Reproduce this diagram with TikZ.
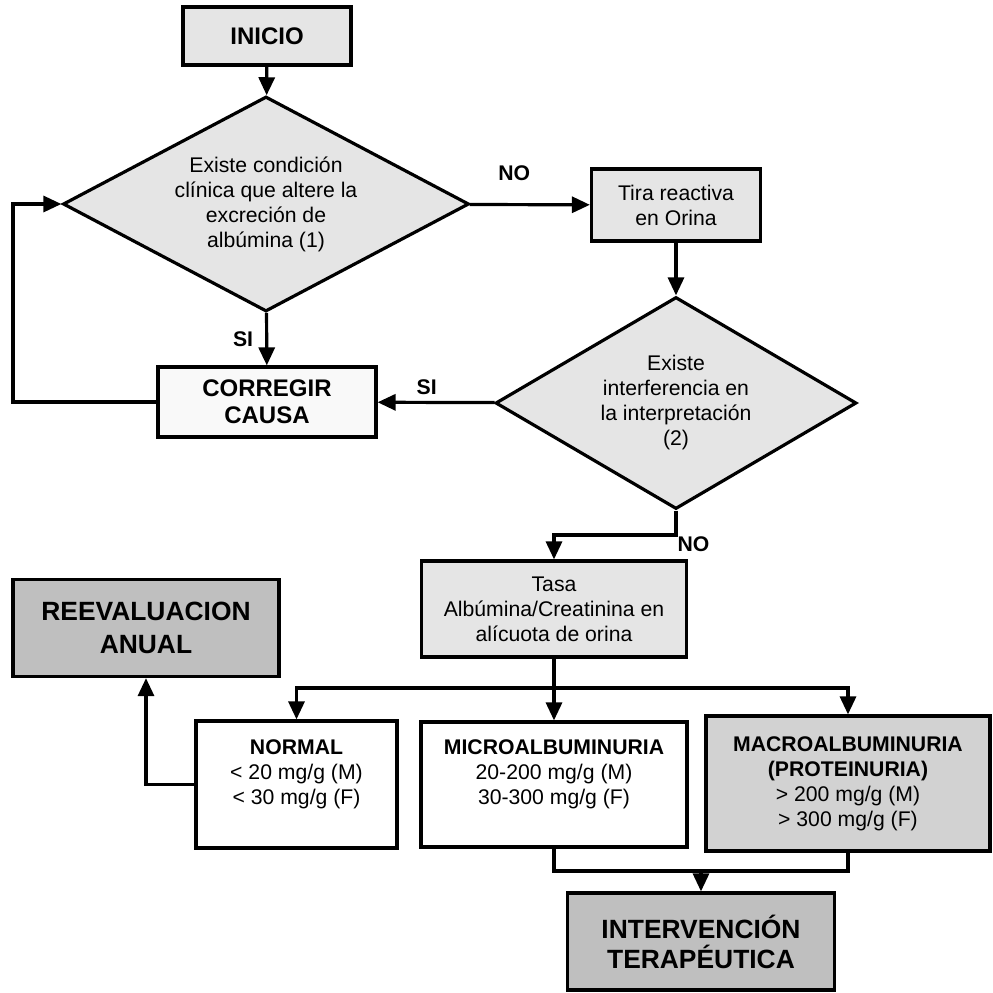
\documentclass[tikz,border=0pt]{standalone}
\usepackage{fontspec}
\setmainfont{Liberation Sans}
\usetikzlibrary{shapes.geometric,arrows.meta}

\begin{document}
\begin{tikzpicture}[x=0.5pt,y=-0.5pt,line width=1.6pt,>={Triangle[length=9pt,width=8pt]},
	box/.style={shape=rectangle,draw=black,align=center,inner sep=2pt,font=\fontsize{10.6}{12.5}\selectfont},
	decision/.style={shape=diamond,draw=black,fill=gray!20,align=center,inner sep=0pt,font=\fontsize{10.6}{12.5}\selectfont},
	tag/.style={font=\bfseries\fontsize{10.6}{12.5}\selectfont,inner sep=1pt}]
	\useasboundingbox (0,0) rectangle (993,993);

	\node[box,fill=gray!20,minimum width=84pt,minimum height=29pt,font=\bfseries\fontsize{12}{14}\selectfont] (inicio) at (267,36) {INICIO};
	\node[decision,aspect=1.89,minimum width=203pt,minimum height=107.5pt] (cond) at (266,204) {Existe condición\\clínica que altere la\\excreción de\\albúmina (1)};
	\node[box,fill=gray!5,minimum width=109pt,minimum height=35pt,font=\bfseries\fontsize{12}{13.5}\selectfont] (corregir) at (267,402) {CORREGIR\\CAUSA};
	\node[box,fill=gray!20,minimum width=84.5pt,minimum height=36pt] (tira) at (676,205) {Tira reactiva\\en Orina};
	\node[decision,aspect=1.7,minimum width=180.5pt,minimum height=106pt] (interf) at (676,403) {Existe\\interferencia en\\la interpretación\\(2)};
	\node[box,fill=gray!20,minimum width=132.5pt,minimum height=48pt] (tasa) at (554,609) {Tasa\\Albúmina/Creatinina en\\alícuota de orina};
	\node[box,fill=gray!50,minimum width=133pt,minimum height=48.5pt,font=\bfseries\fontsize{13.2}{16.5}\selectfont] (reeval) at (146,628) {REEVALUACION\\ANUAL};
	\node[box,fill=white,minimum width=100.5pt,minimum height=63.5pt] (normal) at (296.5,784.5) {\textbf{NORMAL}\\< 20 mg/g (M)\\< 30 mg/g (F)\\~};
	\node[box,fill=white,minimum width=133pt,minimum height=62.5pt] (micro) at (554,784.5) {\textbf{MICROALBUMINURIA}\\20-200 mg/g (M)\\30-300 mg/g (F)\\~};
	\node[box,fill=gray!35,minimum width=142pt,minimum height=67.5pt] (macro) at (848,783.5) {\textbf{MACROALBUMINURIA}\\\textbf{(PROTEINURIA)}\\> 200 mg/g (M)\\> 300 mg/g (F)};
	\node[box,fill=gray!50,minimum width=133.5pt,minimum height=48.5pt,font=\bfseries\fontsize{13.2}{15}\selectfont] (interv) at (701,941.5) {INTERVENCIÓN\\TERAPÉUTICA};

	\coordinate (loop) at (13,402);
	\coordinate (bend) at (676,535);
	\coordinate (split) at (554,688);
	\coordinate (join) at (701,871);

	\path[->] (inicio) edge (cond);
	\path[->] (cond) edge node[tag,left=5pt]{SI} (corregir);
	\path[->] (cond) edge node[tag,above=10pt,pos=0.37]{NO} (tira);
	\path[->] (tira) edge (interf);
	\path[->] (interf) edge node[tag,above=2pt,pos=0.58]{SI} (corregir);
	\draw[->] (corregir) -- (loop) |- (cond);
	\draw[->] (interf) -- (bend) node[tag,below right,inner sep=0pt]{NO} -| (tasa);
	\draw (tasa) -- (split);
	\draw[->] (split) -| (normal);
	\path[->] (split) edge (micro);
	\draw[->] (split) -| (macro);
	\draw[->] (normal) -| (reeval);
	\draw (micro) |- (join) -| (macro);
	\path[->] (join) edge (interv);
\end{tikzpicture}
\end{document}
